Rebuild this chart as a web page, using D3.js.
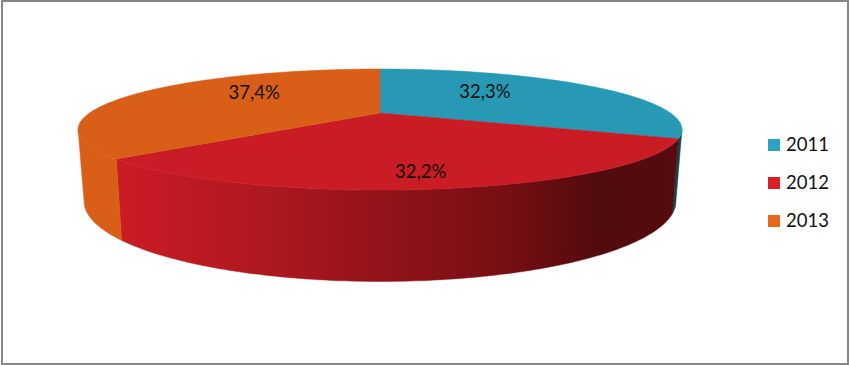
<!DOCTYPE html>
<html>
<head>
<meta charset="utf-8">
<script src="https://cdn.jsdelivr.net/npm/d3@7"></script>
<style>
  html, body { margin: 0; padding: 0; background: #fff; }
  svg { display: block; }
  text { font-family: Lato, "Open Sans", sans-serif; font-size: 18.5px; fill: #111; }
</style>
</head>
<body>
<div id="chart"></div>
<script>
const years = ["2011", "2012", "2013"];
const shares = [32.3, 32.2, 37.4];
const shareLabels = ["32,3%", "32,2%", "37,4%"];

const topColors = ["#2899b5", "#c91c24", "#d95e18"];
const legendColors = ["#2ca3c5", "#da1f28", "#e8681a"];
const wallColors = ["#10444f", "url(#redWall)", "#d95e18"];

const width = 849, height = 365;

// perspective of the disc, fitted on the rim of the picture
const cx = 380, persp = -0.2727, tilt = 25.2;
const topR = 290.5, topY = 113;
const bottomR = 284.7, bottomY = 179.5;
const rimFront = Math.acos(persp); // where the wall starts to be seen

// label nudges: radius on the disc, then pixels up
const labelRadius = [0.46, 0.72, 0.5];
const labelLift = [8, -9, 10];

const svg = d3.select("#chart").append("svg")
  .attr("width", width)
  .attr("height", height);

const grad = svg.append("defs").append("linearGradient")
  .attr("id", "redWall")
  .attr("gradientUnits", "userSpaceOnUse")
  .attr("x1", 118).attr("x2", 676).attr("y1", 0).attr("y2", 0);
[[0, "#cb1c24"], [0.25, "#b0181f"], [0.47, "#93131a"], [0.685, "#780f14"], [0.864, "#510b0e"], [1, "#560b0e"]]
  .forEach(s => grad.append("stop").attr("offset", s[0]).attr("stop-color", s[1]));

function project(angle, r, radius, baseY) {
  const u = Math.sin(angle) * r, v = -Math.cos(angle) * r;
  const w = 1 + persp * v;
  return [cx + radius * u / w, (tilt * v + baseY) / w];
}

const pie = d3.pie().sort(null).value(d => d);
const slices = pie(shares);
const line = d3.line();

function rim(a0, a1, radius, baseY) {
  const n = Math.max(2, Math.ceil((a1 - a0) * 60));
  return d3.range(n + 1).map(i => project(a0 + (a1 - a0) * i / n, 1, radius, baseY));
}

// walls, only the part that faces the viewer
const seen0 = rimFront, seen1 = 2 * Math.PI - rimFront;
slices.forEach((s, i) => {
  const a0 = Math.max(s.startAngle, seen0), a1 = Math.min(s.endAngle, seen1);
  if (a1 <= a0) return;
  const pts = rim(a0, a1, topR, topY).concat(rim(a0, a1, bottomR, bottomY).reverse());
  svg.append("path")
    .attr("d", line(pts) + "Z")
    .attr("fill", wallColors[i])
    .attr("stroke", wallColors[i])
    .attr("stroke-width", 0.5);
});

// top of the disc
slices.forEach((s, i) => {
  const pts = [project(0, 0, topR, topY)].concat(rim(s.startAngle, s.endAngle, topR, topY));
  svg.append("path")
    .attr("d", line(pts) + "Z")
    .attr("fill", topColors[i])
    .attr("stroke", topColors[i])
    .attr("stroke-width", 0.5);
});

slices.forEach((s, i) => {
  const p = project((s.startAngle + s.endAngle) / 2, labelRadius[i], topR, topY);
  svg.append("text")
    .attr("x", p[0])
    .attr("y", p[1] - labelLift[i])
    .attr("dy", "0.35em")
    .attr("text-anchor", "middle")
    .text(shareLabels[i]);
});

// legend
const legendY = d3.scalePoint().domain(years).range([145, 221]);
const legend = svg.selectAll(".legend")
  .data(years)
  .enter()
  .append("g")
  .attr("class", "legend")
  .attr("transform", d => "translate(768," + legendY(d) + ")");
legend.append("rect")
  .attr("y", -6)
  .attr("width", 12)
  .attr("height", 12)
  .attr("fill", (d, i) => legendColors[i]);
legend.append("text")
  .attr("x", 18)
  .attr("dy", "0.35em")
  .text(d => d);

// chart frame
svg.append("rect")
  .attr("x", 2).attr("y", 1)
  .attr("width", width - 3).attr("height", height - 2)
  .attr("fill", "none")
  .attr("stroke", "#868686")
  .attr("stroke-width", 2);
</script>
</body>
</html>
